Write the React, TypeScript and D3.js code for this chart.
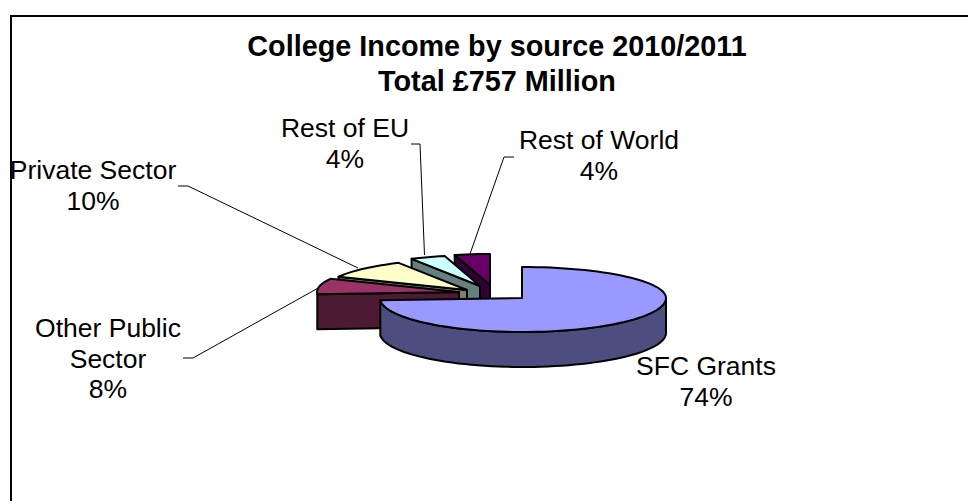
import React from "react";
import * as d3 from "d3";

// Income shares, in the clockwise order they are drawn from twelve o'clock.
const categories = ["SFC Grants", "Other Public Sector", "Private Sector", "Rest of EU", "Rest of World"];
const shares = [74, 8, 10, 4, 4];
const shareLabels = ["74%", "8%", "10%", "4%", "4%"];
const titleLines = ["College Income by source 2010/2011", "Total £757 Million"];

const topColors = ["#9999FF", "#993366", "#FFFFCC", "#CCFFFF", "#660066"];
const sideColors = ["#4D4D80", "#4D1A33", "#808066", "#668080", "#330033"];

// Screen offset of each pulled-out slice from the pie centre.
const explodeX = [0, -63, -55, -42, -32];
const explodeY = [0, -6, -8, -12, -13];

const labelLines = [["SFC Grants"], ["Other Public", "Sector"], ["Private Sector"], ["Rest of EU"], ["Rest of World"]];
const labelX = [706, 108, 93, 345, 599];
const labelY = [375, 337, 179, 137, 149];

const leaders: [number, number][][] = [
  [],
  [[183, 358], [193, 358], [320, 287]],
  [[178, 186], [188, 186], [358, 268]],
  [[411, 144], [420, 144], [424.5, 255]],
  [[514, 157], [504, 157], [470, 254]],
];

const CX = 522;
const CY = 298;
const RX_RIGHT = 144;
const RX_LEFT = 142;
const RY_BACK = 31;
const RY_FRONT = 34;
const DEPTH = 35;

type Pt = [number, number];

// Rim of the tilted disc; the far half is drawn slightly flatter than the near half.
function rimPoint(angle: number, ox: number, oy: number): Pt {
  const c = Math.cos(angle);
  const s = Math.sin(angle);
  return [CX + ox + (s > 0 ? RX_RIGHT : RX_LEFT) * s, CY + oy - (c > 0 ? RY_BACK : RY_FRONT) * c];
}

function arcPoints(a0: number, a1: number, ox: number, oy: number, dy = 0): Pt[] {
  const steps = Math.max(2, Math.ceil((a1 - a0) / 0.05));
  return d3.range(steps + 1).map((i) => {
    const p = rimPoint(a0 + ((a1 - a0) * i) / steps, ox, oy);
    return [p[0], p[1] + dy] as Pt;
  });
}

const outline = d3.line<Pt>().curve(d3.curveLinear);

export default function App() {
  const arcs = d3.pie<number>().sort(null).value((d) => d)(shares);

  // Painted back to front: the smallest slices sit behind the large one.
  const order = [4, 3, 2, 1, 0];

  return (
    <svg
      width={968}
      height={501}
      style={{ position: "absolute", left: 0, top: 0, background: "#fff" }}
      fontFamily="'Liberation Sans', Arial, sans-serif"
    >
      <path d="M11 501V16H968" fill="none" stroke="#000" strokeWidth={2} />

      {titleLines.map((t, i) => (
        <text key={t} x={497} y={56 + i * 35} textAnchor="middle" fontWeight="bold" fontSize={28.8} fill="#000">
          {t}
        </text>
      ))}

      {order.map((idx) => {
        const a = arcs[idx];
        const ox = explodeX[idx];
        const oy = explodeY[idx];
        const apex: Pt = [CX + ox, CY + oy];
        const top = arcPoints(a.startAngle, a.endAngle, ox, oy);
        const startPt = top[0];
        const frontEnd = Math.min(a.endAngle, (3 * Math.PI) / 2);
        const sideFill = sideColors[idx];
        return (
          <g key={categories[idx]} stroke="#000" strokeWidth={2} strokeLinejoin="round">
            {/* Cut wall on the slice's leading edge */}
            {idx > 0 && (
              <path
                d={outline([startPt, apex, [apex[0], apex[1] + DEPTH], [startPt[0], startPt[1] + DEPTH]])! + "Z"}
                fill={sideFill}
              />
            )}
            {/* Curved outer wall, only where it faces the viewer */}
            {idx === 0 && (
              <path
                d={
                  outline([
                    ...arcPoints(Math.PI / 2, frontEnd, ox, oy),
                    ...arcPoints(Math.PI / 2, frontEnd, ox, oy, DEPTH).reverse(),
                  ])! + "Z"
                }
                fill={sideFill}
              />
            )}
            <path d={outline([apex, ...top])! + "Z"} fill={topColors[idx]} />
          </g>
        );
      })}

      {leaders.map((pts, i) =>
        pts.length ? <path key={i} d={outline(pts as Pt[])!} fill="none" stroke="#000" strokeWidth={1} /> : null
      )}

      {categories.map((c, i) => {
        const lines = [...labelLines[i], shareLabels[i]];
        return (
          <text key={c} textAnchor="middle" fontSize={26.5} fill="#000">
            {lines.map((l, j) => (
              <tspan key={j} x={labelX[i]} y={labelY[i] + j * 30.5}>
                {l}
              </tspan>
            ))}
          </text>
        );
      })}
    </svg>
  );
}
